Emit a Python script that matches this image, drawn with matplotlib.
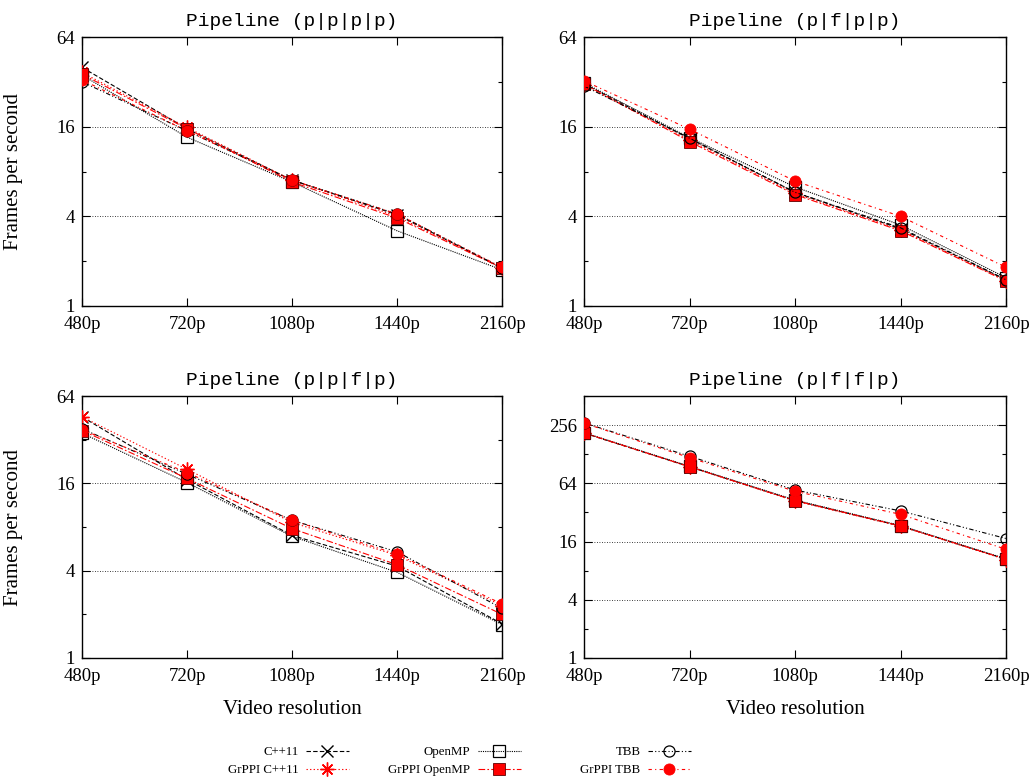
import matplotlib
matplotlib.use("Agg")
import matplotlib.pyplot as plt
from matplotlib.ticker import FixedLocator, NullFormatter, FixedFormatter
from matplotlib.lines import Line2D

resolutions = ["480p", "720p", "1080p", "1440p", "2160p"]
series_names = ["C++11", "GrPPI C++11", "OpenMP", "GrPPI OpenMP", "TBB", "GrPPI TBB"]

# Panel 1: Pipeline (p|p|p|p)
p1_cpp11 = [40, 15.5, 7.0, 4.1, 1.8]
p1_grppi_cpp11 = [37, 15.8, 7.0, 4.0, 1.8]
p1_openmp = [35.5, 13.6, 6.8, 3.2, 1.75]
p1_grppi_openmp = [36, 15.5, 6.8, 3.9, 1.8]
p1_tbb = [32, 15.0, 7.0, 4.15, 1.8]
p1_grppi_tbb = [33, 15.0, 7.0, 4.15, 1.82]

# Panel 2: Pipeline (p|f|p|p)
p2_cpp11 = [31, 13.3, 5.8, 3.3, 1.5]
p2_grppi_cpp11 = [30.5, 13.0, 5.7, 3.25, 1.48]
p2_openmp = [31.5, 13.5, 6.3, 3.5, 1.55]
p2_grppi_openmp = [31, 12.7, 5.6, 3.2, 1.47]
p2_tbb = [30, 13.4, 5.8, 3.35, 1.5]
p2_grppi_tbb = [32.5, 15.4, 6.9, 4.0, 1.82]

# Panel 3: Pipeline (p|p|f|p)
p3_cpp11 = [46, 17.0, 7.0, 4.3, 1.72]
p3_grppi_cpp11 = [46, 20, 8.6, 5.1, 2.3]
p3_openmp = [35.5, 16.2, 6.9, 3.9, 1.7]
p3_grppi_openmp = [37, 17.3, 7.8, 4.4, 2.0]
p3_tbb = [38, 18.5, 8.9, 5.4, 2.2]
p3_grppi_tbb = [37.5, 19, 8.9, 5.2, 2.36]

# Panel 4: Pipeline (p|f|f|p)
p4_cpp11 = [212, 95, 42.5, 23.2, 10.5]
p4_grppi_cpp11 = [212, 95, 42, 23, 10.4]
p4_openmp = [214, 96, 43, 23.4, 10.6]
p4_grppi_openmp = [213, 95, 42.4, 23.2, 10.5]
p4_tbb = [270, 122, 54.6, 33.2, 17.2]
p4_grppi_tbb = [268, 118, 53, 30.6, 13.3]

titles = ["Pipeline (p|p|p|p)", "Pipeline (p|f|p|p)", "Pipeline (p|p|f|p)", "Pipeline (p|f|f|p)"]
panels = [
    [p1_cpp11, p1_grppi_cpp11, p1_openmp, p1_grppi_openmp, p1_tbb, p1_grppi_tbb],
    [p2_cpp11, p2_grppi_cpp11, p2_openmp, p2_grppi_openmp, p2_tbb, p2_grppi_tbb],
    [p3_cpp11, p3_grppi_cpp11, p3_openmp, p3_grppi_openmp, p3_tbb, p3_grppi_tbb],
    [p4_cpp11, p4_grppi_cpp11, p4_openmp, p4_grppi_openmp, p4_tbb, p4_grppi_tbb],
]

RED = "#ff0000"
styles = [
    dict(color="black", ls=(0, (4, 2)), marker="x", ms=8, mfc="none", mec="black", mew=1.0),
    dict(color=RED, ls=(0, (1.2, 2)), marker=(8, 2, 0), ms=10, mfc="none", mec=RED, mew=1.0),
    dict(color="black", ls=(0, (1, 1)), marker="s", ms=8, mfc="none", mec="black", mew=0.9),
    dict(color=RED, ls=(0, (6, 2, 1.5, 2)), marker="s", ms=8, mfc=RED, mec="#600000", mew=0.6),
    dict(color="black", ls=(0, (4, 2, 1, 2, 1, 2)), marker="o", ms=8, mfc="none", mec="black", mew=0.9),
    dict(color=RED, ls=(0, (3, 3, 1, 3)), marker="o", ms=8, mfc=RED, mec=RED, mew=0.6),
]

serif = "Liberation Serif"
mono = "Liberation Mono"

fig = plt.figure(figsize=(10.33, 7.83), dpi=100)
W, H = 1033, 783
boxes = [
    (82, 37, 502, 306),
    (584, 37, 1006, 306),
    (82, 396, 502, 658),
    (584, 396, 1006, 658),
]
x = list(range(len(resolutions)))
for i, (l, t, r, b) in enumerate(boxes):
    ax = fig.add_axes([l / W, 1 - b / H, (r - l) / W, (b - t) / H])
    for vals, st in zip(panels[i], styles):
        ax.plot(x, vals, lw=0.8, **st, zorder=3)
    ax.set_yscale("log", base=2)
    if i == 3:
        ax.set_ylim(1, 512)
        major = [1, 4, 16, 64, 256]
        minor = [2, 8, 32, 128, 512]
    else:
        ax.set_ylim(1, 64)
        major = [1, 4, 16, 64]
        minor = [2, 8, 32]
    ax.yaxis.set_major_locator(FixedLocator(major))
    ax.yaxis.set_major_formatter(FixedFormatter([str(v) for v in major]))
    ax.yaxis.set_minor_locator(FixedLocator(minor))
    ax.yaxis.set_minor_formatter(NullFormatter())
    ax.set_xlim(0, 4)
    ax.set_xticks(x)
    ax.set_xticklabels(resolutions)
    ax.tick_params(which="both", direction="in", top=True, right=True, width=0.8)
    ax.tick_params(which="major", length=6, labelsize=13.5)
    ax.tick_params(axis="x", which="major", pad=7)
    ax.tick_params(axis="y", which="major", pad=5)
    ax.tick_params(which="minor", length=3)
    for lab in ax.get_xticklabels() + ax.get_yticklabels():
        lab.set_fontfamily(serif)
    for g in major[1:]:
        ax.axhline(g, color="black", lw=0.6, ls=(0, (1, 2)), zorder=1)
    for s in ax.spines.values():
        s.set_linewidth(1.0)
    ax.set_title(titles[i], fontfamily=mono, fontsize=14, pad=8)
    if i % 2 == 0:
        ax.set_ylabel("Frames per second", fontfamily=serif, fontsize=15, labelpad=24)
    if i >= 2:
        ax.set_xlabel("Video resolution", fontfamily=serif, fontsize=15, labelpad=11)

# Legend: three columns of two entries
handles = [Line2D([], [], lw=0.8, **st) for st in styles]
anchors = [350, 522, 692]
for c in range(3):
    leg = fig.legend(handles[2 * c:2 * c + 2], series_names[2 * c:2 * c + 2],
                     loc="upper right", bbox_to_anchor=(anchors[c] / W, 1 - 745 / H),
                     frameon=False, markerfirst=False, handlelength=3.3,
                     handletextpad=0.6, labelspacing=0.45, borderpad=0.1,
                     borderaxespad=0, prop={"family": serif, "size": 9.3})

fig.savefig("out.png", dpi=100)
